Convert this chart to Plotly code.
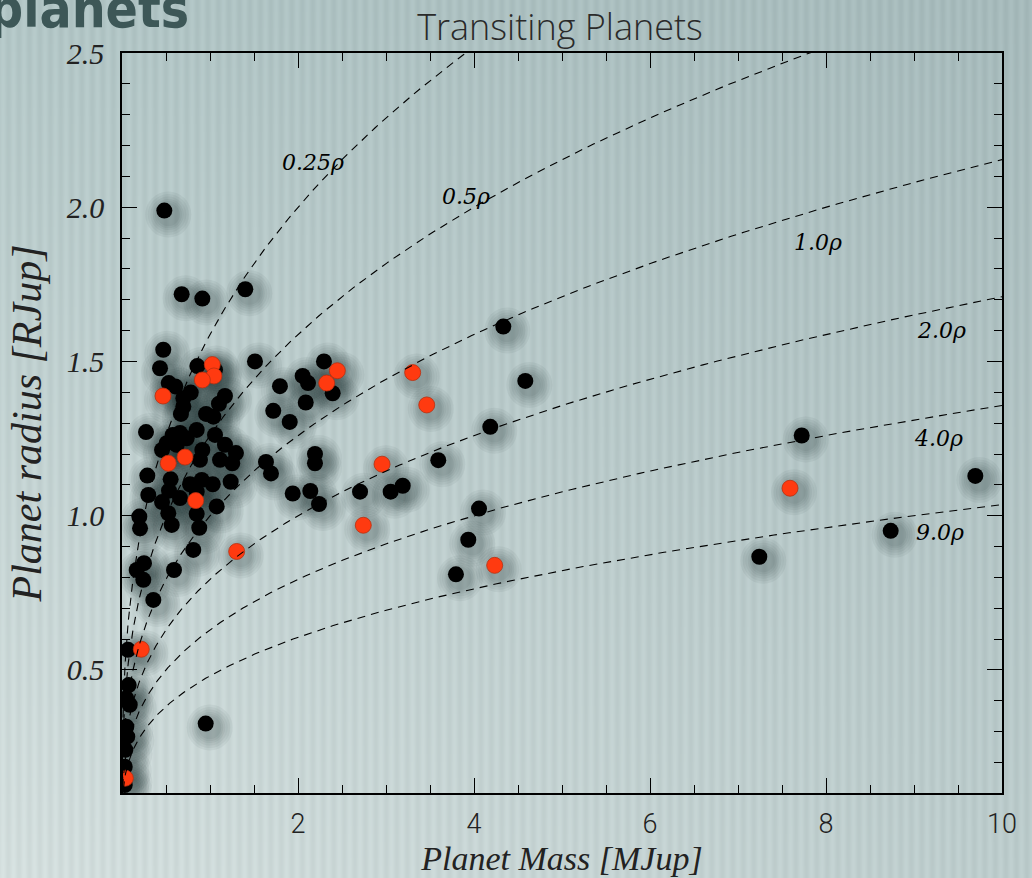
import base64
import struct
import zlib

import numpy as np
import plotly.graph_objects as go

# ---------------- data ----------------
black_mass = [0.678, 0.913, 1.401, 0.481, 0.469, 0.432, 0.856, 1.057, 1.511, 0.531,
              0.606, 0.781, 0.697, 1.170, 1.102, 0.697, 0.670, 0.955, 1.038, 0.273,
              0.849, 0.576, 0.659, 0.735, 1.057, 0.455, 0.508, 0.622, 0.913, 1.170,
              1.295, 1.114, 0.886, 1.253, 1.636, 1.693, 0.288, 0.553, 0.773, 0.906,
              1.031, 1.235, 0.299, 0.534, 0.659, 0.455, 0.849, 1.076, 0.526, 0.565,
              0.849, 0.878, 0.197, 0.205, 0.810, 0.250, 0.167, 0.242, 0.591, 0.356,
              0.068, 0.076, 0.049, 0.088, 0.049, 0.060, 0.038, 0.031, 0.031, 0.951,
              2.295, 2.053, 2.114, 1.795, 2.394, 2.088, 1.719, 1.906, 4.333, 4.583,
              4.185, 3.594, 2.193, 2.193, 1.940, 2.140, 2.239, 2.705, 3.053, 3.190,
              4.057, 3.935, 3.795,
              7.724, 9.697, 8.735, 7.242]
black_radius = [1.718, 1.704, 1.734, 1.989, 1.538, 1.478, 1.485, 1.473, 1.500, 1.430,
                1.419, 1.399, 1.381, 1.388, 1.363, 1.354, 1.330, 1.330, 1.321, 1.271,
                1.278, 1.262, 1.268, 1.251, 1.262, 1.213, 1.235, 1.230, 1.213, 1.230,
                1.203, 1.181, 1.181, 1.170, 1.174, 1.137, 1.130, 1.118, 1.102, 1.116,
                1.102, 1.110, 1.067, 1.081, 1.057, 1.044, 1.078, 1.030, 1.008, 0.970,
                1.006, 0.961, 0.997, 0.959, 0.889, 0.846, 0.824, 0.792, 0.824, 0.727,
                0.565, 0.451, 0.408, 0.387, 0.316, 0.284, 0.241, 0.186, 0.127, 0.326,
                1.500, 1.453, 1.430, 1.420, 1.397, 1.367, 1.340, 1.304, 1.613, 1.437,
                1.288, 1.180, 1.200, 1.170, 1.072, 1.080, 1.038, 1.078, 1.078, 1.097,
                1.023, 0.922, 0.810,
                1.260, 1.129, 0.951, 0.867]

red_mass = [1.026, 1.045, 0.913, 0.466, 0.526, 0.716, 0.838, 1.303, 0.219, 0.038,
            2.447, 2.326, 3.303, 3.463, 2.955, 2.742, 4.235, 7.591]
red_radius = [1.490, 1.453, 1.440, 1.388, 1.170, 1.190, 1.049, 0.884, 0.567, 0.149,
              1.470, 1.430, 1.464, 1.359, 1.167, 0.969, 0.839, 1.089]

densities = [0.25, 0.5, 1.0, 2.0, 4.0, 9.0]
density_labels = ["0.25ρ", "0.5ρ", "1.0ρ", "2.0ρ", "4.0ρ", "9.0ρ"]
label_mass = [2.17, 3.91, 7.91, 9.31, 9.28, 9.30]
label_radius = [2.144, 2.034, 1.885, 1.602, 1.249, 0.947]

x_range = [0, 10]
y_range = [0.101, 2.5]

# ---------------- layout geometry ----------------
W, H = 1032, 878
ML, MR, MT, MB = 122, 30, 53, 85
PW, PH = W - ML - MR, H - MT - MB


# ---------------- background image (gradient + vertical stripes) ----------------
def make_png(arr):
    h, w, _ = arr.shape
    raw = b"".join(b"\x00" + arr[i].tobytes() for i in range(h))

    def chunk(tag, data):
        c = struct.pack(">I", len(data)) + tag + data
        return c + struct.pack(">I", zlib.crc32(tag + data) & 0xFFFFFFFF)

    return (b"\x89PNG\r\n\x1a\n"
            + chunk(b"IHDR", struct.pack(">IIBBBBB", w, h, 8, 2, 0, 0, 0))
            + chunk(b"IDAT", zlib.compress(raw, 9))
            + chunk(b"IEND", b""))


IH = 110
xs = np.linspace(0, 1, W)[None, :, None]
ys = np.linspace(0, 1, IH)[:, None, None]
TL = np.array([178, 198, 198.0])
TR = np.array([166, 186, 187.0])
BL = np.array([212, 223, 222.0])
BR = np.array([188, 204, 204.0])
bg = (TL * (1 - xs) * (1 - ys) + TR * xs * (1 - ys) + BL * (1 - xs) * ys + BR * xs * ys)
stripe = 4.5 * np.sin(2 * np.pi * np.arange(W) / 10.5)[None, :, None]
bg = np.clip(bg + stripe, 0, 255).astype(np.uint8)
bg_uri = "data:image/png;base64," + base64.b64encode(make_png(bg)).decode()

fig = go.Figure()

# ---------------- soft shadows under the markers ----------------
all_mass = np.array(black_mass + red_mass)
all_rad = np.array(black_radius + red_radius)
dx = 4 * (x_range[1] - x_range[0]) / PW
dy = 4 * (y_range[1] - y_range[0]) / PH
for size in [46, 41, 36, 31, 27, 23]:
    fig.add_trace(go.Scatter(
        x=all_mass + dx, y=all_rad - dy, mode="markers", hoverinfo="skip",
        marker=dict(size=size, color="rgba(25,40,40,0.05)", line=dict(width=0)),
        showlegend=False))

# ---------------- planets ----------------
fig.add_trace(go.Scatter(
    x=black_mass, y=black_radius, mode="markers", name="planets",
    marker=dict(size=16, color="black", line=dict(width=0)), showlegend=False))
fig.add_trace(go.Scatter(
    x=red_mass, y=red_radius, mode="markers", name="highlighted",
    marker=dict(size=16, color="#ff3a10", line=dict(width=0.8, color="#b83010")),
    showlegend=False))

# ---------------- iso-density curves ----------------
m_curve = np.geomspace(1e-4, 10, 500)
for rho in densities:
    fig.add_trace(go.Scatter(
        x=m_curve, y=(m_curve / rho) ** (1 / 3), mode="lines", hoverinfo="skip",
        line=dict(color="black", width=1.1, dash="8px,6px"), showlegend=False))

for txt, xm, yr in zip(density_labels, label_mass, label_radius):
    fig.add_annotation(x=xm, y=yr, text=txt, showarrow=False,
                       font=dict(family="DejaVu Serif", size=22, style="italic",
                                 color="black"))

# ---------------- cut-off slide heading (cut at the page edge, as in the source) ----
fig.add_annotation(xref="paper", yref="paper",
                   x=(-13 - ML) / PW, y=1 + (MT - 41) / PH,
                   xanchor="left", yanchor="bottom", text="<b>planets</b>",
                   showarrow=False,
                   font=dict(family="Liberation Sans Narrow, DejaVu Sans Condensed, sans-serif",
                             size=53, color="#3d5757"))

axis_common = dict(showline=True, linecolor="black", linewidth=1.5, mirror="allticks",
                   ticks="inside", tickcolor="black", tickwidth=1.2, ticklen=15,
                   showgrid=False, zeroline=False, automargin=False)

fig.update_xaxes(range=x_range, tickmode="linear", tick0=0, dtick=2,
                 labelalias={"0": ""},
                 minor=dict(dtick=0.5, ticklen=8, ticks="inside", tickcolor="black",
                            tickwidth=1.2, showgrid=False),
                 tickfont=dict(family="Roboto", weight=300, size=27, color="#222"),
                 ticklabelstandoff=6,
                 title=dict(text="Planet Mass [MJup]", standoff=6,
                            font=dict(family="Liberation Serif", style="italic", size=34,
                                      color="#222")),
                 **axis_common)
fig.update_yaxes(range=y_range, tickmode="linear", tick0=0.5, dtick=0.5,
                 tickformat=".1f",
                 minor=dict(dtick=0.1, ticklen=8, ticks="inside", tickcolor="black",
                            tickwidth=1.2, showgrid=False),
                 tickfont=dict(family="Liberation Serif", style="italic", size=30,
                               color="#222"),
                 ticklabelstandoff=10,
                 title=dict(text="Planet radius [RJup]", standoff=12,
                            font=dict(family="Liberation Serif", style="italic", size=42,
                                      color="#222")),
                 **axis_common)

fig.update_layout(
    width=W, height=H, autosize=False,
    margin=dict(l=ML, r=MR, t=MT, b=MB, pad=0),
    paper_bgcolor="#b8c8c8", plot_bgcolor="rgba(0,0,0,0)",
    title=dict(text="Transiting Planets", xref="paper", x=(560 - ML) / PW, xanchor="center",
               yref="container", y=1 - 27 / H, yanchor="middle",
               font=dict(family="Open Sans", weight=300, size=36, color="#2a2a2a")),
    images=[dict(source=bg_uri, xref="paper", yref="paper",
                 x=-ML / PW, y=1 + MT / PH, sizex=W / PW, sizey=H / PH,
                 xanchor="left", yanchor="top", sizing="stretch", layer="below")],
)

fig.write_html("out.html", include_plotlyjs=True)
